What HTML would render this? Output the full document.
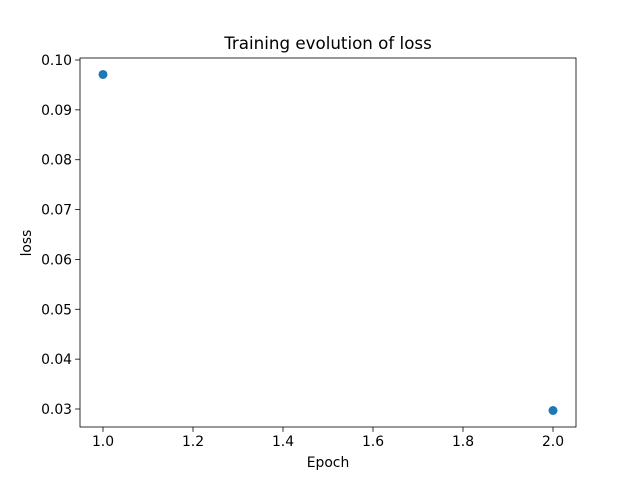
<!DOCTYPE html>
<html><head><meta charset="utf-8"><style>
body{margin:0;background:#fff}
svg text{font-family:"DejaVu Sans","Liberation Sans",sans-serif;fill:#000}
</style></head><body>
<svg id="chart" width="640" height="480" xmlns="http://www.w3.org/2000/svg">
<rect width="640" height="480" fill="#fff"/>
<text x="328" y="49" font-size="16.7" text-anchor="middle">Training evolution of loss</text>
<text x="328" y="467" font-size="13.9" text-anchor="middle">Epoch</text>
<text transform="translate(31,243) rotate(-90)" font-size="13.9" text-anchor="middle">loss</text>
<g id="ticks"></g>
<g id="marks"></g>
<rect x="80" y="58" width="496" height="369" fill="none" stroke="#000" stroke-width="0.8"/>
</svg>
<script>
const epochs=[1,2];
const lossValues=[0.0971,0.0297];
const xTicks=[1.0,1.2,1.4,1.6,1.8,2.0];
const yTicks=[0.03,0.04,0.05,0.06,0.07,0.08,0.09,0.10];
const NS="http://www.w3.org/2000/svg";
const x=v=>103+(v-1)*450;
const y=v=>60+(0.10-v)*(349/0.07);
const tg=document.getElementById('ticks'),mg=document.getElementById('marks');
function mk(t,a,p){const e=document.createElementNS(NS,t);for(const k in a)e.setAttribute(k,a[k]);p.appendChild(e);return e;}
xTicks.forEach(v=>{
  const l=mk('line',{x1:x(v),x2:x(v),y1:427,y2:431.9,stroke:'#000','stroke-width':0.8},tg);
  
  
  const t=mk('text',{x:x(v),y:446,'font-size':13.9,'text-anchor':'middle'},tg);
  t.textContent=v.toFixed(1);
  
  
});
yTicks.forEach(v=>{
  const l=mk('line',{x1:75.1,x2:80,y1:y(v),y2:y(v),stroke:'#000','stroke-width':0.8},tg);
  
  
  const t=mk('text',{x:72,y:y(v)+5,'font-size':13.9,'text-anchor':'end'},tg);
  t.textContent=v.toFixed(2);
  
  
});
epochs.forEach((e,i)=>{
  const c=mk('circle',{cx:x(e),cy:y(lossValues[i]),r:4.5,fill:'#1f77b4'},mg);
  
  
});
</script>
</body></html>
